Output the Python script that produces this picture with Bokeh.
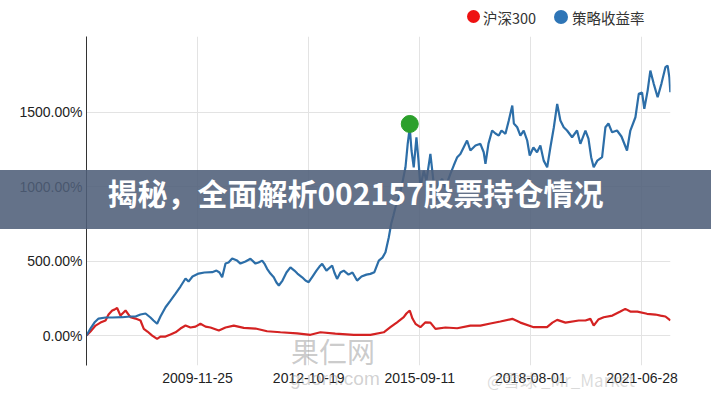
from bokeh.plotting import figure
from bokeh.models import FixedTicker, GridBox, Div
from bokeh.embed import file_html
from bokeh.resources import INLINE

# ---- data (trading-day index, cumulative return in %) ----
strategy_day = [0, 25, 50, 76, 120, 164, 225, 277, 309, 340, 372, 403, 422, 445, 466, 498, 529, 561, 592, 624,
                643, 668, 706, 743, 792, 819, 838, 855, 876, 895, 918, 949, 970, 1002, 1033, 1065, 1084, 1107,
                1121, 1138, 1159, 1180, 1197, 1212, 1235, 1260, 1285, 1310, 1329, 1359, 1380, 1400, 1424, 1449,
                1468, 1485, 1512, 1548, 1562, 1579, 1600, 1621, 1651, 1676, 1705, 1733, 1764, 1789, 1814, 1842,
                1865, 1884, 1905, 1920, 1934, 1947, 1968, 1989, 2010, 2024, 2037, 2048, 2062, 2079, 2092, 2104,
                2125, 2142, 2167, 2188, 2205, 2220, 2241, 2262, 2293, 2314, 2336, 2356, 2377, 2398, 2419, 2451,
                2482, 2503, 2514, 2533, 2556, 2577, 2598, 2615, 2640, 2661, 2683, 2693, 2714, 2734, 2755, 2777,
                2793, 2816, 2839, 2860, 2881, 2903, 2923, 2945, 2966, 2986, 3007, 3028, 3060, 3091, 3112, 3144,
                3163, 3180, 3196, 3219, 3249, 3270, 3289, 3312, 3343, 3371, 3406, 3427, 3459, 3480, 3501, 3515,
                3536, 3553, 3574, 3599, 3623, 3648, 3662, 3673, 3679]
strategy_ret = [0, 47, 87, 114, 121, 121, 123, 128, 128, 141, 148, 121, 101, 79, 128, 190, 235, 282, 329, 383,
                362, 396, 416, 423, 425, 436, 423, 391, 483, 490, 517, 503, 483, 497, 515, 483, 490, 503,
                483, 448, 416, 391, 356, 336, 369, 423, 458, 436, 416, 391, 369, 358, 396, 436,
                463, 481, 436, 470, 423, 380, 423, 436, 409, 423, 369, 396, 409, 414, 425, 503,
                523, 559, 660, 750, 805, 861, 928, 1018, 1129, 1286, 1396, 1242, 1129, 1331, 1174, 995,
                1107, 1040, 1219, 1018, 906, 1020, 1052, 995, 1085, 1141, 1197, 1219, 1264, 1309, 1242, 1275,
                1287, 1230, 1152, 1288, 1376, 1356, 1342, 1376, 1354, 1443, 1544, 1423, 1398, 1342, 1376, 1309,
                1208, 1262, 1230, 1275, 1174, 1129, 1262, 1398, 1555, 1443, 1398, 1376, 1331, 1376, 1287, 1376,
                1322, 1197, 1129, 1174, 1197, 1398, 1423, 1364, 1376, 1336, 1242, 1376, 1465, 1622, 1631, 1521,
                1644, 1778, 1691, 1599, 1691, 1801, 1812, 1731, 1633]

hs300_day = [0, 25, 57, 88, 120, 139, 162, 176, 193, 214, 227, 246, 265, 277, 309, 340, 361, 384, 414, 445,
             466, 498, 529, 561, 592, 624, 655, 687, 718, 750, 781, 834, 876, 928, 991, 1065, 1138, 1222,
             1327, 1411, 1474, 1568, 1684, 1789, 1873, 1915, 1957, 1999, 2016, 2037, 2054, 2073, 2104, 2136,
             2167, 2199, 2262, 2336, 2419, 2482, 2545, 2608, 2683, 2734, 2818, 2902, 2936, 2966, 3018, 3102,
             3144, 3175, 3196, 3225, 3259, 3314, 3364, 3395, 3427, 3471, 3532, 3585, 3617, 3648, 3679]
hs300_ret = [0, 27, 67, 87, 101, 141, 168, 174, 185, 134, 148, 168, 141, 123, 114, 101, 45, 27, 0, -22,
             -7, -7, 7, 22, 47, 67, 54, 60, 79, 60, 54, 34, 54, 67, 52, 47, 29, 22,
             15, 5, 22, 13, 5, 5, 22, 56, 89, 123, 148, 168, 114, 79, 56, 89,
             87, 45, 54, 49, 67, 67, 81, 94, 112, 87, 56, 56, 87, 105, 87, 101,
             101, 112, 67, 107, 123, 134, 161, 179, 161, 161, 146, 141, 134, 128, 101]

peak_day = [2037]
peak_ret = [1420]

y_ticks = [0, 500, 1000, 1500]
y_tick_labels = ["0.00%", "500.00%", "1000.00%", "1500.00%"]
x_ticks = [700, 1400, 2100, 2800, 3500]
x_tick_labels = ["2009-11-25", "2012-10-19", "2015-09-11", "2018-08-01", "2021-06-28"]

series_names = ["沪深300", "策略收益率"]
series_legend_colors = ["#ee1111", "#2e75b6"]
title_text = "揭秘，全面解析002157股票持仓情况"
watermark_texts = ["果仁网", "guorn.com", "@雪球  _Mr_Market"]

BLUE = "#2c6ea8"
RED = "#d42222"
GREEN = "#2ca02c"

# ---------------- main chart ----------------
p = figure(width=711, height=400, output_backend="svg", toolbar_location=None,
           x_range=(0, 3680), y_range=(-201, 2007),
           min_border_left=86, min_border_right=41, min_border_top=36, min_border_bottom=35)
p.outline_line_color = None
p.background_fill_color = "white"
p.border_fill_color = "white"

p.line(hs300_day, hs300_ret, line_color=RED, line_width=2.2)
p.line(strategy_day, strategy_ret, line_color=BLUE, line_width=2.2)
p.scatter(peak_day, peak_ret, marker="circle", size=17, fill_color=GREEN, line_color=GREEN)

p.yaxis.ticker = FixedTicker(ticks=y_ticks)
p.yaxis.major_label_overrides = dict(zip(y_ticks, y_tick_labels))
p.xaxis.ticker = FixedTicker(ticks=x_ticks)
p.xaxis.major_label_overrides = dict(zip(x_ticks, x_tick_labels))
for ax in (p.xaxis[0], p.yaxis[0]):
    ax.major_tick_line_color = None
    ax.minor_tick_line_color = None
    ax.major_tick_out = 0
    ax.major_tick_in = 0
    ax.minor_tick_out = 0
    ax.major_label_text_font = "Liberation Sans"
    ax.major_label_text_font_size = "14px"
    ax.major_label_text_color = "#222222"
p.yaxis.axis_line_color = "#333333"
p.yaxis.major_label_standoff = 4
p.xaxis.axis_line_color = None
p.xaxis.major_label_standoff = 7

p.xgrid.ticker = FixedTicker(ticks=x_ticks)
p.ygrid.ticker = FixedTicker(ticks=y_ticks)
p.grid.grid_line_color = "#e3e3e3"
p.grid.grid_line_width = 1

# ---------------- HTML overlay: legend, watermarks, title banner ----------------
CJK = "'Noto Sans CJK SC', 'Noto Sans', sans-serif"
html = f"""
<div style="position:relative;width:711px;height:400px;overflow:hidden;pointer-events:none;margin:0;padding:0;">
  <div style="position:absolute;left:467px;top:10px;width:13px;height:13px;border-radius:50%;background:{series_legend_colors[0]};"></div>
  <div style="position:absolute;left:483px;top:7px;height:20px;line-height:20px;font:14.5px {CJK};color:#333;white-space:nowrap;">{series_names[0]}</div>
  <div style="position:absolute;left:554px;top:10px;width:14px;height:14px;border-radius:50%;background:{series_legend_colors[1]};"></div>
  <div style="position:absolute;left:572px;top:7px;height:20px;line-height:20px;font:14.5px {CJK};color:#333;white-space:nowrap;">{series_names[1]}</div>

  <div style="position:absolute;left:291px;top:331px;line-height:34px;font:28px {CJK};color:rgba(140,140,140,0.45);white-space:nowrap;">{watermark_texts[0]}</div>
  <div style="position:absolute;left:290px;top:368px;line-height:22px;font:19px 'Liberation Sans', sans-serif;color:rgba(140,140,140,0.4);white-space:nowrap;">{watermark_texts[1]}</div>
  <div style="position:absolute;left:487px;top:367px;line-height:22px;font:17px {CJK};color:rgba(150,150,150,0.35);white-space:nowrap;">{watermark_texts[2]}</div>

  <div style="position:absolute;left:0;top:170px;width:711px;height:59px;background:rgba(79,95,121,0.88);"></div>
  <div style="position:absolute;left:0;top:170px;width:711px;height:59px;line-height:59px;text-align:center;font:bold 30px {CJK};color:#ffffff;white-space:nowrap;">{title_text}</div>
</div>
"""
overlay = Div(text=html, width=711, height=400, margin=0,
              styles={"pointer-events": "none", "margin": "0", "padding": "0"})

layout = GridBox(children=[(p, 0, 0), (overlay, 0, 0)], spacing=0)
open("out.html", "w").write(file_html(layout, INLINE))
